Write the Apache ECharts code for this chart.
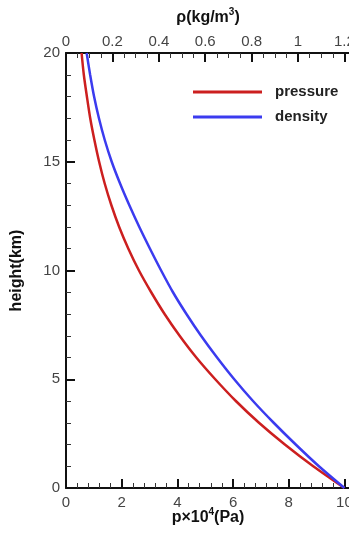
<!DOCTYPE html>
<html>
<head>
<meta charset="utf-8">
<script src="https://cdn.jsdelivr.net/npm/echarts@6/dist/echarts.min.js"></script>
<style>
  html, body { margin: 0; padding: 0; background: #fff; }
  #main { width: 349px; height: 533px; }
</style>
</head>
<body>
<div id="main"></div>
<script>
// heights in km
var heights = [0, 1, 2, 3, 4, 5, 6, 7, 8, 9, 10, 11, 12, 13, 14, 15, 16, 17, 18, 19, 20]
// pressure, x10^4 Pa
var pressure = [10, 8.88, 7.86, 6.93, 6.1, 5.36, 4.68, 4.08, 3.54, 3.06, 2.62, 2.24, 1.91, 1.63, 1.39, 1.19, 1.02, 0.87, 0.75, 0.64, 0.56]
// density, kg/m3
var density = [1.2, 1.09, 0.99, 0.895, 0.806, 0.725, 0.651, 0.582, 0.519, 0.461, 0.41, 0.362, 0.316, 0.273, 0.233, 0.197, 0.167, 0.142, 0.121, 0.104, 0.089]

var black = '#111'
var labelColor = '#444'

function pairs(xs){
  return xs.map(function(v, i){ return [v, heights[i]] })
}

function axisStyle(split){
  return {
    axisLine: { lineStyle: { color: black, width: 2 } },
    axisTick: { inside: true, length: 9, lineStyle: { color: black, width: 2 } },
    minorTick: { show: true, splitNumber: split, length: 5, lineStyle: { color: '#333', width: 1 } },
    splitLine: { show: false },
    minorSplitLine: { show: false }
  }
}

var nameFont = {
  fontFamily: 'Liberation Sans', fontWeight: 'bold', fontSize: 16, color: '#111', lineHeight: 22,
  rich: {
    sup: { fontFamily: 'Liberation Sans', fontSize: 10, fontWeight: 'bold', color: '#111', lineHeight: 12, verticalAlign: 'top' }
  }
}

var myChart = echarts.init(document.getElementById('main'))

var pAxis = Object.assign({
  type: 'value', position: 'bottom', min: 0, max: 10.2, interval: 2,
  name: 'p×10{sup|4}(Pa)', nameLocation: 'middle', nameGap: 19, nameMoveOverlap: false,
  nameTextStyle: nameFont,
  axisLabel: { showMaxLabel: false, margin: 7, fontFamily: 'Liberation Sans', fontSize: 15, color: labelColor }
}, axisStyle(5))

var rhoAxis = Object.assign({
  type: 'value', position: 'top', min: 0, max: 1.224, interval: 0.2,
  name: 'ρ(kg/m{sup|3})', nameLocation: 'middle', nameGap: 24, nameMoveOverlap: false,
  nameTextStyle: nameFont,
  axisLabel: { showMaxLabel: false, margin: 4, fontFamily: 'Liberation Sans', fontSize: 15, color: labelColor }
}, axisStyle(4))

var hAxis = Object.assign({
  type: 'value', min: 0, max: 20, interval: 5,
  name: 'height(km)', nameLocation: 'middle', nameGap: 41, nameRotate: 90, nameMoveOverlap: false,
  nameTextStyle: { fontFamily: 'Liberation Sans', fontWeight: 'bold', fontSize: 16, color: '#111' },
  axisLabel: { margin: 6, fontFamily: 'Liberation Sans', fontSize: 15, color: labelColor }
}, axisStyle(5))

myChart.setOption({
  animation: false,
  grid: { left: 66, top: 53, bottom: 45, width: 284, containLabel: false, outerBoundsMode: 'none' },
  legend: {
    orient: 'vertical', left: 193, top: 83, padding: 0,
    icon: 'rect', itemWidth: 69, itemHeight: 3, itemGap: 7,
    textStyle: { fontFamily: 'Liberation Sans', fontWeight: 'bold', fontSize: 15, color: '#222', lineHeight: 18, padding: [0, 0, 0, 8] },
    data: ['pressure', 'density']
  },
  xAxis: [pAxis, rhoAxis],
  yAxis: [hAxis],
  series: [
    {
      name: 'pressure', type: 'line', xAxisIndex: 0, symbol: 'none', smooth: 0.3,
      lineStyle: { color: '#cc1f1f', width: 2.5 }, itemStyle: { color: '#cc1f1f' },
      data: pairs(pressure)
    },
    {
      name: 'density', type: 'line', xAxisIndex: 1, symbol: 'none', smooth: 0.3,
      lineStyle: { color: '#3b3bef', width: 2.5 }, itemStyle: { color: '#3b3bef' },
      data: pairs(density)
    }
  ]
})
</script>
</body>
</html>
